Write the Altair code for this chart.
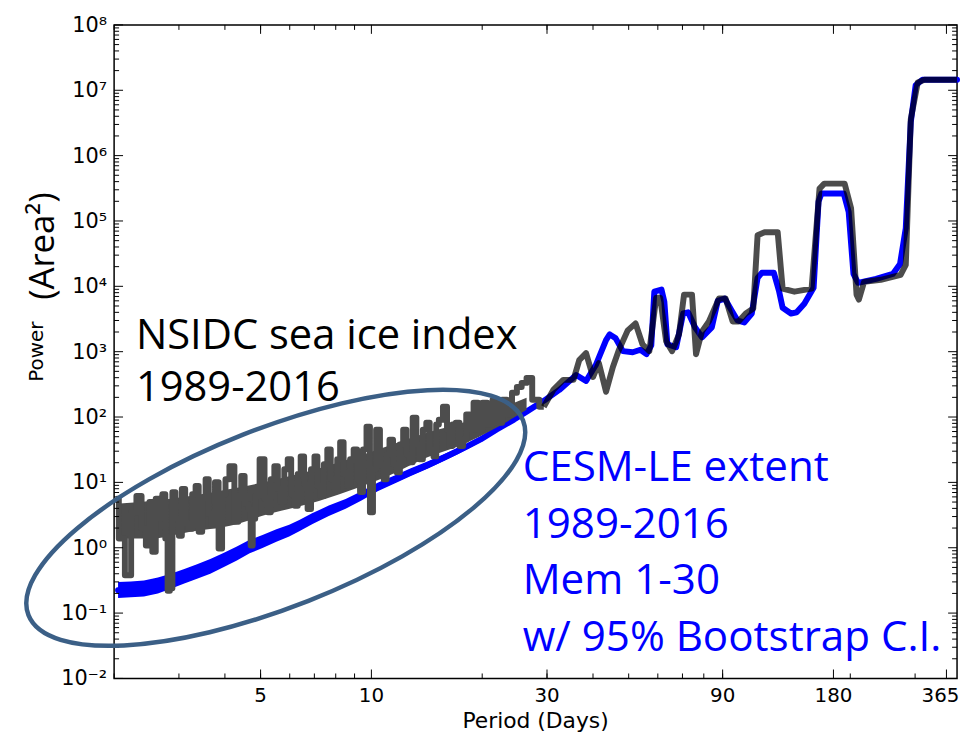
import altair as alt
import pandas as pd

# ---------------- values ----------------
# NSIDC sea ice index 1989-2016 (dark grey curve): period (days), power (area^2)
# short periods (noisy part)
nsidc_period_short = [2.03, 2.09, 2.19, 2.26, 2.34, 2.41, 2.47, 2.52, 2.56, 2.63, 2.68, 2.73, 2.78, 2.81, 2.86,
                      2.90, 2.97, 3.03, 3.08, 3.16, 3.22, 3.30, 3.36, 3.43, 3.51, 3.58, 3.65, 3.71, 3.81, 3.88,
                      3.98, 4.05, 4.18, 4.31, 4.39, 4.47, 4.58, 4.67, 4.73, 4.79, 4.88, 5.06, 5.19, 5.28, 5.38,
                      5.52, 5.62, 5.73, 5.87, 5.98, 6.13, 6.25, 6.37, 6.48, 6.65, 6.77, 6.94, 7.07, 7.20, 7.34,
                      7.52, 7.66, 7.85, 8.00, 8.15, 8.30, 8.51, 8.67, 8.84, 9.06, 9.23, 9.40, 9.58, 9.82, 10.0,
                      10.2, 10.4, 10.7, 10.9, 11.1, 11.3, 11.6, 11.8, 12.1, 12.3, 12.6, 12.8, 13.1, 13.4, 13.6,
                      14.0, 14.2, 14.6, 14.9, 15.1, 15.4, 15.9, 16.2, 16.4, 16.8, 17.1, 17.6, 17.9, 18.3, 18.7,
                      19.2, 19.8, 20.3, 21.0, 21.7, 22.4, 22.9, 23.8, 24.4, 25.3, 25.9, 26.9, 27.8, 29.4]
nsidc_power_short = [5.6, 1.38, 0.38, 3.5, 6.2, 1.95, 1.08, 5.0, 0.87, 5.6, 2.77, 6.6, 1.38, 0.22, 0.24,
                     7.1, 2.77, 1.53, 7.9, 2.33, 1.95, 6.6, 8.8, 1.76, 5.6, 11.2, 3.3, 2.2, 10.1, 0.97,
                     6.6, 11.2, 17.7, 2.5, 5.6, 12.5, 4.69, 3.9, 1.08, 2.77, 6.2, 22.6, 5.6, 3.5, 11.2,
                     17.7, 7.9, 5.0, 15.9, 22.6, 6.6, 4.4, 13.4, 25, 9.4, 3.9, 15.9, 25, 8.8, 6.2,
                     19.0, 32, 11.2, 7.9, 22.6, 41, 13.4, 8.8, 22.6, 32, 11.2, 7.1, 32, 71, 3.5,
                     15.9, 64, 19.0, 11.2, 26.9, 45, 19.0, 14.3, 38, 64, 26.9, 20.3, 98, 38, 22.6,
                     64, 82, 32, 25, 77, 91, 144, 64, 36, 77, 82, 36, 45, 109, 64,
                     165, 64, 165, 77, 184, 82, 184, 109, 235, 289, 333, 396, 184, 144]
# dense core of the noisy grey band (lower / upper edge of the solid part)
nsidc_core_period = [2.03, 2.52, 3.22, 4.13, 5.28, 6.77, 8.67, 11.1, 14.2, 17.7, 21.9, 26.4]
nsidc_core_low = [1.38, 1.38, 1.76, 2.17, 3.3, 4.69, 7.4, 12.5, 24.2, 38, 69, 129]
nsidc_core_high = [4.69, 5.2, 6.2, 7.9, 10.5, 14.8, 22.6, 36, 58, 82, 129, 197]
# longer periods
nsidc_period_long = [29.4, 31.2, 33.2, 35.4, 36.7, 38.3, 40.0, 41.5, 43.4, 45.3, 47.0, 49.7, 52.2, 54.5, 56.9,
                     59.4, 60.9, 63.2, 65.6, 68.5, 70.7, 74.3, 76.2, 79.1, 82.6, 87.9, 91.7, 95.8, 99.4, 104,
                     109, 112, 117, 127, 131, 141, 157, 165, 170, 193, 201, 208, 211, 218, 242,
                     274, 283, 292, 305, 318, 390]
nsidc_power_long = [144, 260, 370, 370, 743, 949, 410, 668, 243, 582, 1054, 2120, 2710, 1300, 1018,
                    6720, 6720, 1443, 1018, 1844, 7460, 7460, 916, 2047, 2904, 6490, 6490, 2904, 2904, 3840,
                    4570, 60700, 67400, 67400, 9200, 8280, 9200, 313000, 373000, 373000, 156000, 7460, 6270, 11700, 12600,
                    15000, 21300, 3.61e6, 1.32e7, 1.45e7, 1.45e7]

# CESM-LE extent 1989-2016, members 1-30 (blue curve)
cesm_period = [2.05, 2.22, 2.41, 2.63, 2.85, 3.09, 3.36, 3.65, 3.95, 4.31, 4.67, 5.06, 5.52, 5.98, 6.37,
               6.90, 7.66, 8.51, 9.40, 10.4, 11.6, 12.8, 14.2, 15.8, 17.1, 18.2, 19.8, 21.9, 24.4, 26.4,
               29.4, 32.4, 36.0, 38.3, 40.7, 43.4, 44.4, 46.1, 48.2, 51.3, 53.8, 55.9, 57.6, 58.7, 61.4,
               62.5, 63.7, 67.3, 70.3, 72.5, 75.7, 79.1, 84.1, 87.3, 91.2, 95.1, 98.8, 103, 108, 112,
               115, 124, 128, 131, 138, 143, 150, 159, 164, 167, 192, 198, 204, 210, 235,
               261, 273, 283, 292, 301, 314, 390]
cesm_power = [0.224, 0.232, 0.240, 0.267, 0.307, 0.366, 0.435, 0.519, 0.640, 0.817, 1.04, 1.24, 1.53, 1.82, 2.17,
              2.77, 3.67, 4.69, 6.20, 8.49, 11.2, 14.3, 18.3, 24.2, 29.9, 35.6, 45.4, 64.4, 91.4, 121,
              177, 260, 440, 356, 624, 1500, 1840, 1600, 1020, 980, 1070, 916, 1250, 8280, 8900,
              5800, 1300, 1170, 3840, 4000, 2360, 1660, 2360, 6000, 6500, 4300, 3000, 2800, 3840, 13500,
              16100, 16100, 8600, 4700, 3840, 4000, 5400, 9500, 199000, 263000, 263000, 137000, 15500, 11300, 13000,
              15500, 22000, 77400, 3.26e6, 1.19e7, 1.45e7, 1.45e7]

# 95% bootstrap confidence band (only wider than the line at short periods)
ci_period = [2.05, 2.22, 2.41, 2.63, 2.85, 3.09, 3.36, 3.65, 3.95, 4.31, 4.67, 5.06, 5.52, 5.98, 6.37,
             6.90, 7.66, 8.51, 9.40, 10.4, 11.6, 12.8, 14.2, 15.8, 17.1, 18.2, 19.8, 21.9, 24.4, 26.4, 29.4]
ci_low = [0.17, 0.175, 0.18, 0.20, 0.235, 0.28, 0.335, 0.40, 0.50, 0.64, 0.82, 0.99, 1.23, 1.48, 1.78,
          2.29, 3.06, 3.95, 5.27, 7.3, 9.7, 12.5, 16.1, 21.5, 26.8, 32.2, 41.4, 59.3, 85, 114, 170]
ci_high = [0.30, 0.305, 0.315, 0.35, 0.40, 0.47, 0.56, 0.67, 0.82, 1.04, 1.32, 1.56, 1.91, 2.25, 2.66,
           3.36, 4.41, 5.57, 7.30, 9.9, 12.9, 16.4, 20.8, 27.2, 33.3, 39.4, 49.8, 69.9, 98, 128, 184]

# axis ticks and labels
x_major = [5, 10, 30, 90, 180, 365]
x_labels = ["5", "10", "30", "90", "180", "365"]
x_minor = [2, 3, 4, 5, 6, 7, 8, 9, 20, 30, 40, 50, 60, 70, 80, 90, 200, 300]
y_major = [1e-2, 1e-1, 1e0, 1e1, 1e2, 1e3, 1e4, 1e5, 1e6, 1e7, 1e8]
y_labels = ["10⁻²", "10⁻¹", "10⁰", "10¹", "10²", "10³", "10⁴", "10⁵", "10⁶", "10⁷", "10⁸"]
y_minor = [m * 10.0 ** k for k in range(-2, 8) for m in range(2, 10)]

x_title = "Period (Days)"
y_title = "Power"
y_unit = "(Area²)"
nsidc_text = ["NSIDC sea ice index", "1989-2016"]
cesm_text = ["CESM-LE extent", "1989-2016", "Mem 1-30", "w/ 95% Bootstrap C.I."]

# ---------------- chart ----------------
W, H = 850, 659
AXFONT = "DejaVu Sans"
ANFONT = "Open Sans"
GREY = "#4d4d4d"

xs = alt.Scale(type="log", domain=[2, 390], nice=False)
ys = alt.Scale(type="log", domain=[0.01, 1e8], nice=False)

def X(f):
    return alt.X(f, scale=xs, axis=None)

def Y(f):
    return alt.Y(f, scale=ys, axis=None)

ns_short = pd.DataFrame({"period": nsidc_period_short, "power": nsidc_power_short})
ns_core = pd.DataFrame({"period": nsidc_core_period, "lo": nsidc_core_low, "hi": nsidc_core_high})
ns_long = pd.DataFrame({"period": nsidc_period_long, "power": nsidc_power_long})
cesm_df = pd.DataFrame({"period": cesm_period, "power": cesm_power})
ci_df = pd.DataFrame({"period": ci_period, "lo": ci_low, "hi": ci_high})

band = alt.Chart(ci_df).mark_area(color="#0000ff", opacity=1).encode(
    x=X("period:Q"), y=Y("lo:Q"), y2="hi:Q")
blue = alt.Chart(cesm_df).mark_line(color="#0000ff", strokeWidth=6, strokeCap="round",
                                    strokeJoin="round").encode(x=X("period:Q"), y=Y("power:Q"))
grey_core = alt.Chart(ns_core).mark_area(color=GREY, opacity=1, interpolate="monotone").encode(
    x=X("period:Q"), y=Y("lo:Q"), y2="hi:Q")
grey_short = alt.Chart(ns_short).mark_line(color=GREY, strokeWidth=6, interpolate="step",
                                           strokeCap="butt", strokeJoin="round").encode(
    x=X("period:Q"), y=Y("power:Q"))
grey_long = alt.Chart(ns_long).mark_line(color="black", strokeOpacity=0.7, strokeWidth=6,
                                         strokeCap="butt", strokeJoin="round").encode(
    x=X("period:Q"), y=Y("power:Q"))

# inward-pointing ticks on all four sides
def xticks(vals, length):
    df = pd.DataFrame({"t": vals})
    bot = alt.Chart(df).mark_rule(color="black", strokeWidth=1).encode(
        x=X("t:Q"), y=alt.value(H), y2=alt.value(H - length))
    top = alt.Chart(df).mark_rule(color="black", strokeWidth=1).encode(
        x=X("t:Q"), y=alt.value(0), y2=alt.value(length))
    return [bot, top]

def yticks(vals, length):
    df = pd.DataFrame({"t": vals})
    left = alt.Chart(df).mark_rule(color="black", strokeWidth=1).encode(
        y=Y("t:Q"), x=alt.value(0), x2=alt.value(length))
    right = alt.Chart(df).mark_rule(color="black", strokeWidth=1).encode(
        y=Y("t:Q"), x=alt.value(W - length), x2=alt.value(W))
    return [left, right]

ticks = xticks(x_major, 9) + xticks(x_minor, 5) + yticks(y_major, 9) + yticks(y_minor, 5)

# tick labels and axis titles
xlab = alt.Chart(pd.DataFrame({"t": x_major[:-1], "lab": x_labels[:-1]})).mark_text(
    font=AXFONT, fontSize=20, color="black", align="center", baseline="top").encode(
    x=X("t:Q"), y=alt.value(H + 8), text="lab:N")
xlab_last = alt.Chart(pd.DataFrame({"t": x_major[-1:], "lab": x_labels[-1:]})).mark_text(
    font=AXFONT, fontSize=20, color="black", align="center", baseline="top", dx=-6).encode(
    x=X("t:Q"), y=alt.value(H + 8), text="lab:N")
ylab = alt.Chart(pd.DataFrame({"t": y_major, "lab": y_labels})).mark_text(
    font=AXFONT, fontSize=21, color="black", align="right", baseline="middle", dy=1).encode(
    y=Y("t:Q"), x=alt.value(-7), text="lab:N")

one = pd.DataFrame({"k": [0]})
xtitle = alt.Chart(one).mark_text(text=x_title, font=AXFONT, fontSize=22, color="black",
                                  align="center", baseline="alphabetic").encode(
    x=alt.value(W / 2), y=alt.value(709))
ytitle = alt.Chart(one).mark_text(text=y_title, font=AXFONT, fontSize=20, angle=270, color="black",
                                  align="center", baseline="alphabetic").encode(
    x=alt.value(-72), y=alt.value(H / 2))
t_area = alt.Chart(one).mark_text(text=y_unit, font=ANFONT, fontSize=35, angle=270,
                                  color="black", align="center", baseline="alphabetic").encode(
    x=alt.value(-61), y=alt.value(223))

ELLIPSE = ("M -1 0 C -1 -0.1855 -0.5523 -0.336 0 -0.336 C 0.5523 -0.336 1 -0.1855 1 0 "
           "C 1 0.1855 0.5523 0.336 0 0.336 C -0.5523 0.336 -1 0.1855 -1 0 Z")
ellipse = alt.Chart(one).mark_point(shape=ELLIPSE, size=287296, angle=338.5, filled=False,
                                    color="#3b5f86", strokeWidth=4.5, opacity=1).encode(
    x=alt.value(163), y=alt.value(497))

t_nsidc = alt.Chart(one).mark_text(text=nsidc_text, font=ANFONT, fontSize=42, lineHeight=52,
                                   color="black", align="left", baseline="alphabetic").encode(
    x=alt.value(22), y=alt.value(327))
t_cesm = alt.Chart(one).mark_text(text=cesm_text, font=ANFONT, fontSize=42.5, lineHeight=57,
                                  color="#0000ff", align="left", baseline="alphabetic").encode(
    x=alt.value(412), y=alt.value(460))

chart = alt.layer(band, blue, grey_core, grey_short, grey_long, *ticks, xlab, xlab_last, ylab, xtitle,
                  ytitle, t_area, ellipse, t_nsidc, t_cesm).properties(
    width=W, height=H,
    autosize=alt.AutoSizeParams(type="none"),
    padding={"left": 107, "top": 14, "right": 5, "bottom": 57},
    background="white",
).configure_view(stroke="black", strokeWidth=1.5)

chart.save("out.html", embed_options={"renderer": "svg", "actions": False})
